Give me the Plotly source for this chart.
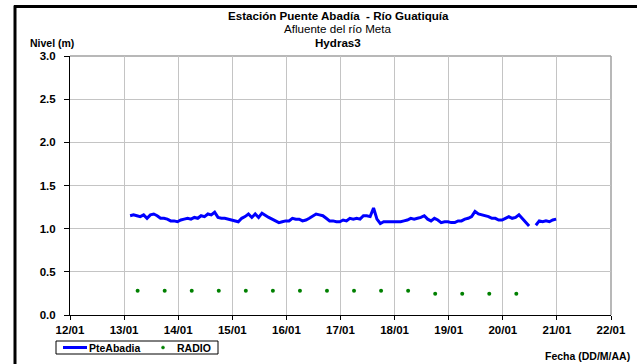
import pandas as pd
import plotly.graph_objects as go

# Water level at Puente Abadía (Hydras3 logger), sampled every 90 minutes
nivel_inicio = "2011-01-13 02:40"
nivel_paso = "90min"
nivel = [
    1.15, 1.16, 1.15, 1.14, 1.16, 1.12, 1.16, 1.17, 1.15, 1.12,
    1.12, 1.11, 1.09, 1.09, 1.08, 1.10, 1.11, 1.12, 1.11, 1.13,
    1.12, 1.15, 1.14, 1.17, 1.16, 1.19, 1.13, 1.12, 1.12, 1.11,
    1.10, 1.09, 1.08, 1.12, 1.14, 1.17, 1.13, 1.17, 1.13, 1.18,
    1.15, 1.13, 1.11, 1.09, 1.07, 1.08, 1.09, 1.09, 1.12, 1.11,
    1.11, 1.09, 1.10, 1.12, 1.15, 1.17, 1.16, 1.15, 1.12, 1.09,
    1.09, 1.08, 1.08, 1.10, 1.09, 1.12, 1.11, 1.12, 1.11, 1.15,
    1.15, 1.14, 1.24, 1.11, 1.06, 1.08, 1.08, 1.08, 1.08, 1.08,
    1.08, 1.09, 1.10, 1.12, 1.11, 1.12, 1.13, 1.15, 1.11, 1.09,
    1.12, 1.10, 1.07, 1.08, 1.08, 1.07, 1.07, 1.09, 1.09, 1.11,
    1.12, 1.14, 1.20, 1.17, 1.16, 1.15, 1.14, 1.12, 1.12, 1.10,
    1.10, 1.12, 1.14, 1.12, 1.13, 1.16, 1.12, 1.07, 1.03, None,
    1.04, 1.09, 1.08, 1.09, 1.08, 1.10, 1.11,
]

# Manual radio readings (06:00 and 18:00)
radio_fechas = [
    "2011-01-13 06:00", "2011-01-13 18:00", "2011-01-14 06:00", "2011-01-14 18:00",
    "2011-01-15 06:00", "2011-01-15 18:00", "2011-01-16 06:00", "2011-01-16 18:00",
    "2011-01-17 06:00", "2011-01-17 18:00", "2011-01-18 06:00", "2011-01-18 18:00",
    "2011-01-19 06:00", "2011-01-19 18:00", "2011-01-20 06:00",
]
radio = [0.28, 0.28, 0.28, 0.28, 0.28, 0.28, 0.28, 0.28, 0.28, 0.28, 0.28,
         0.245, 0.245, 0.245, 0.245]

serie_nombres = ["PteAbadia", "RADIO"]
y_ticks = [0.0, 0.5, 1.0, 1.5, 2.0, 2.5, 3.0]
x_inicio, x_fin = "2011-01-12", "2011-01-22"

W, H = 637, 364
L, R, T, B = 70, 26, 56, 49
PW, PH = W - L - R, H - T - B
FONT = "Liberation Sans, Arial, sans-serif"
AZUL, VERDE = "#0000ff", "#008000"


def px_x(p):
    return (p - L) / PW


def px_y(p):
    return (H - B - p) / PH


nivel_fechas = pd.date_range(nivel_inicio, periods=len(nivel), freq=nivel_paso)

fig = go.Figure()
fig.add_trace(go.Scatter(
    x=nivel_fechas, y=nivel, mode="lines", name=serie_nombres[0],
    line=dict(color=AZUL, width=3), connectgaps=False,
))
fig.add_trace(go.Scatter(
    x=pd.to_datetime(radio_fechas), y=radio, mode="markers", name=serie_nombres[1],
    marker=dict(color=VERDE, size=4),
))

grid = "#c4c4c4"
tick_font = dict(family=FONT, size=11.5, color="#000000", weight="bold")

fig.update_xaxes(
    type="date", range=[x_inicio, x_fin], dtick=86400000, tick0=x_inicio,
    tickformat="%d/%m", showgrid=True, gridcolor=grid, gridwidth=1,
    showline=True, linecolor="#000000", linewidth=1,
    ticks="outside", ticklen=4, tickcolor="#000000", tickwidth=1,
    tickfont=tick_font, zeroline=False, fixedrange=True,
)
fig.update_yaxes(
    range=[0, 3], tickvals=y_ticks, tickformat=".1f",
    showgrid=True, gridcolor=grid, gridwidth=1,
    showline=True, linecolor="#000000", linewidth=1,
    ticks="outside", ticklen=5, tickcolor="#000000", tickwidth=1,
    tickfont=tick_font, zeroline=False, ticklabelstandoff=6, fixedrange=True,
)


def paper_line(x0, y0, x1, y1, color, width, **kw):
    return dict(type="line", xref="paper", yref="paper",
                x0=px_x(x0), x1=px_x(x1), y0=px_y(y0), y1=px_y(y1),
                line=dict(color=color, width=width), **kw)


shapes = [
    # grey frame on top and right of the plotting area
    paper_line(L, T, L + PW, T, "#a0a0a0", 1.5, layer="below"),
    paper_line(L + PW, T, L + PW, T + PH, "#a0a0a0", 1.5, layer="below"),
    # outer black border (top and left)
    paper_line(14, 6.5, W + 2, 6.5, "#000000", 3),
    paper_line(15, 5.5, 15, H + 2, "#000000", 3),
    # compact legend box below the axis
    dict(type="rect", xref="paper", yref="paper",
         x0=px_x(56), x1=px_x(218), y0=px_y(341), y1=px_y(354),
         line=dict(color="#000000", width=1), fillcolor="#ffffff"),
    paper_line(63, 347.5, 87, 347.5, AZUL, 3),
    dict(type="circle", xref="paper", yref="paper",
         x0=px_x(161.5), x1=px_x(164.5), y0=px_y(346), y1=px_y(349),
         line=dict(color=VERDE, width=0.5), fillcolor=VERDE),
]

annotations = [
    dict(text="<b>Estación Puente Abadía  - Río Guatiquía</b>", x=px_x(338), y=px_y(15.5),
         font=dict(size=11.6)),
    dict(text="Afluente del río Meta", x=px_x(338), y=px_y(29), font=dict(size=11.6)),
    dict(text="<b>Hydras3</b>", x=px_x(338), y=px_y(42.5), font=dict(size=11.6)),
    dict(text="<b>Nivel (m)</b>", x=px_x(28), y=px_y(43), xanchor="left",
         font=dict(size=10.5)),
    dict(text="<b>Fecha (DD/M/AA)</b>", x=px_x(632), y=px_y(356), xanchor="right",
         font=dict(size=10.5)),
    dict(text="<b>" + serie_nombres[0] + "</b>", x=px_x(87), y=px_y(348), xanchor="left",
         font=dict(size=10.5)),
    dict(text="<b>" + serie_nombres[1] + "</b>", x=px_x(175), y=px_y(348), xanchor="left",
         font=dict(size=10.5)),
]
for a in annotations:
    a.setdefault("xanchor", "center")
    a.update(xref="paper", yref="paper", yanchor="middle", showarrow=False)
    a["font"].update(family=FONT, color="#000000")

fig.update_layout(
    width=W, height=H,
    margin=dict(l=L, r=R, t=T, b=B, pad=0, autoexpand=False),
    paper_bgcolor="#ffffff", plot_bgcolor="#ffffff",
    font=dict(family=FONT, color="#000000"),
    showlegend=False,
    shapes=shapes,
    annotations=annotations,
)

fig.write_html("out.html")
